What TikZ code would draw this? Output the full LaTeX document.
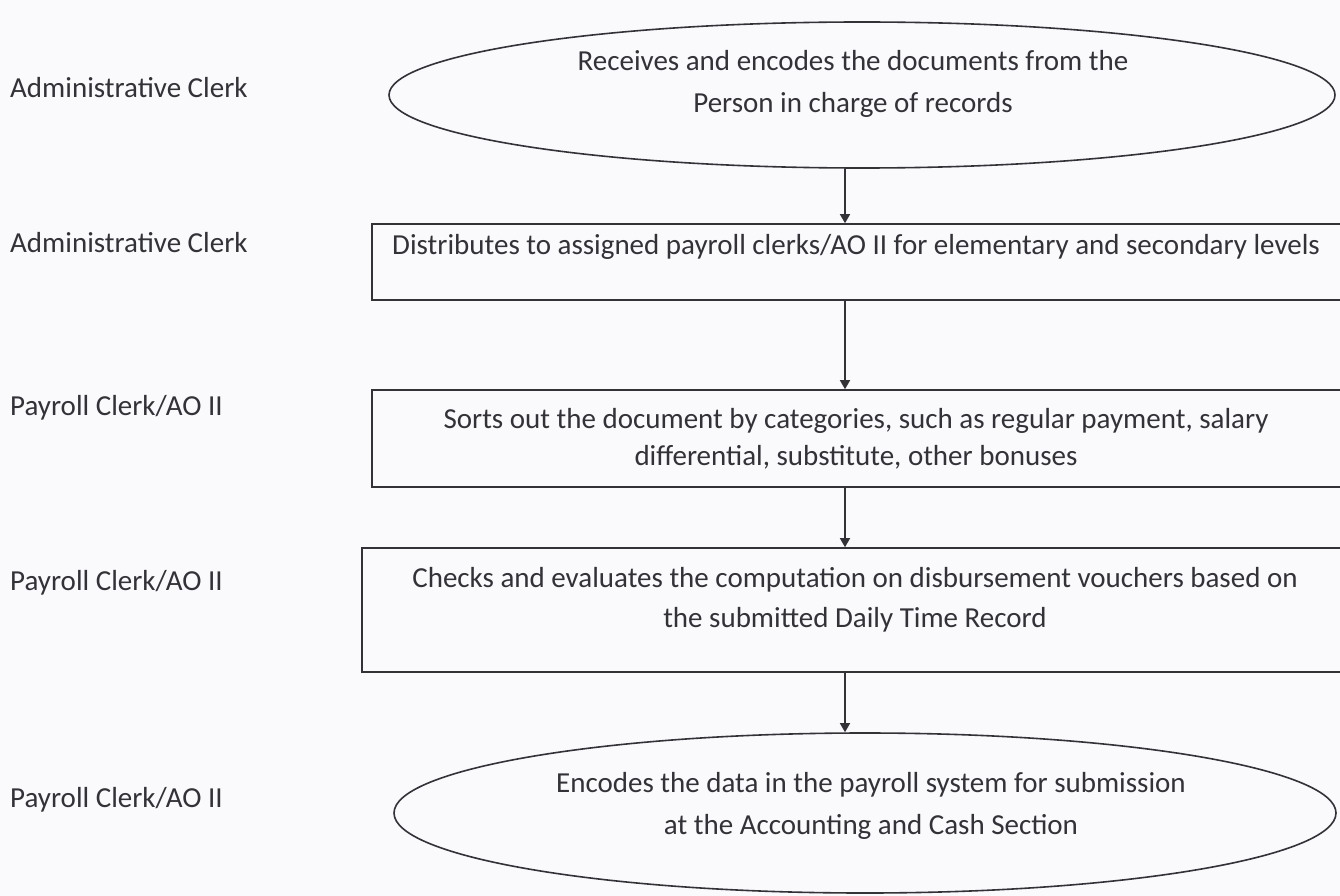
\documentclass[tikz,border=0pt]{standalone}
\usepackage{fontspec}
\setmainfont{Carlito}
\usetikzlibrary{shapes.geometric,arrows.meta}
\definecolor{ink}{RGB}{50,50,55}
\definecolor{paper}{RGB}{250,250,253}
\tikzset{
  lbl/.style={anchor=west,text=ink,font=\fontsize{29}{40}\selectfont,inner sep=0pt},
  txt/.style={text=ink,font=\fontsize{29}{42}\selectfont,align=center,inner sep=0pt},
  oval/.style={ellipse,draw=ink,line width=1.6pt,inner sep=0pt},
  stepbox/.style={rectangle,draw=ink,line width=1.6pt,inner sep=0pt},
  flow/.style={draw=ink,line width=1.4pt,-{Triangle[width=10pt,length=9pt]}}
}
\begin{document}
\begin{tikzpicture}[x=1pt,y=-1pt]
\useasboundingbox (0,0) rectangle (1340,896);
\fill[paper] (0,0) rectangle (1340,896);
\clip (0,0) rectangle (1340,896);
% shapes
\node[oval,minimum width=946pt,minimum height=146pt] (e1) at (862,95) {};
\node[stepbox,minimum width=990pt,minimum height=76pt] (b2) at (867,262) {};
\node[stepbox,minimum width=990pt,minimum height=97pt] (b3) at (867,438.5) {};
\node[stepbox,minimum width=1000pt,minimum height=124pt] (b4) at (862,610) {};
\node[oval,minimum width=942pt,minimum height=160pt] (e5) at (865,813) {};
% texts
\node[txt] (t1) at (853,83.5) {Receives and encodes the documents from the\\Person in charge of records};
\node[txt] (t2) at (856,247) {Distributes to assigned payroll clerks/AO II for elementary and secondary levels};
\node[txt,font=\fontsize{29}{37}\selectfont] (t3) at (856,438.5) {Sorts out the document by categories, such as regular payment, salary\\differential, substitute, other bonuses};
\node[txt,font=\fontsize{29}{40}\selectfont] (t4) at (855,600) {Checks and evaluates the computation on disbursement vouchers based on\\the submitted Daily Time Record};
\node[txt] (t5) at (871,806) {Encodes the data in the payroll system for submission\\at the Accounting and Cash Section};
% role labels
\node[lbl] (r1) at (10,88) {Administrative Clerk};
\node[lbl] (r2) at (10,243) {Administrative Clerk};
\node[lbl] (r3) at (10,408) {Payroll Clerk/AO II};
\node[lbl] (r4) at (10,583) {Payroll Clerk/AO II};
\node[lbl] (r5) at (10,800) {Payroll Clerk/AO II};
% connectors
\draw[flow] (e1.south -| 845,0) -- (b2.north -| 845,0);
\draw[flow] (b2.south -| 845,0) -- (b3.north -| 845,0);
\draw[flow] (b3.south -| 845,0) -- (b4.north -| 845,0);
\draw[flow] (b4.south -| 845,0) -- (e5.north -| 845,0);
\end{tikzpicture}
\end{document}
